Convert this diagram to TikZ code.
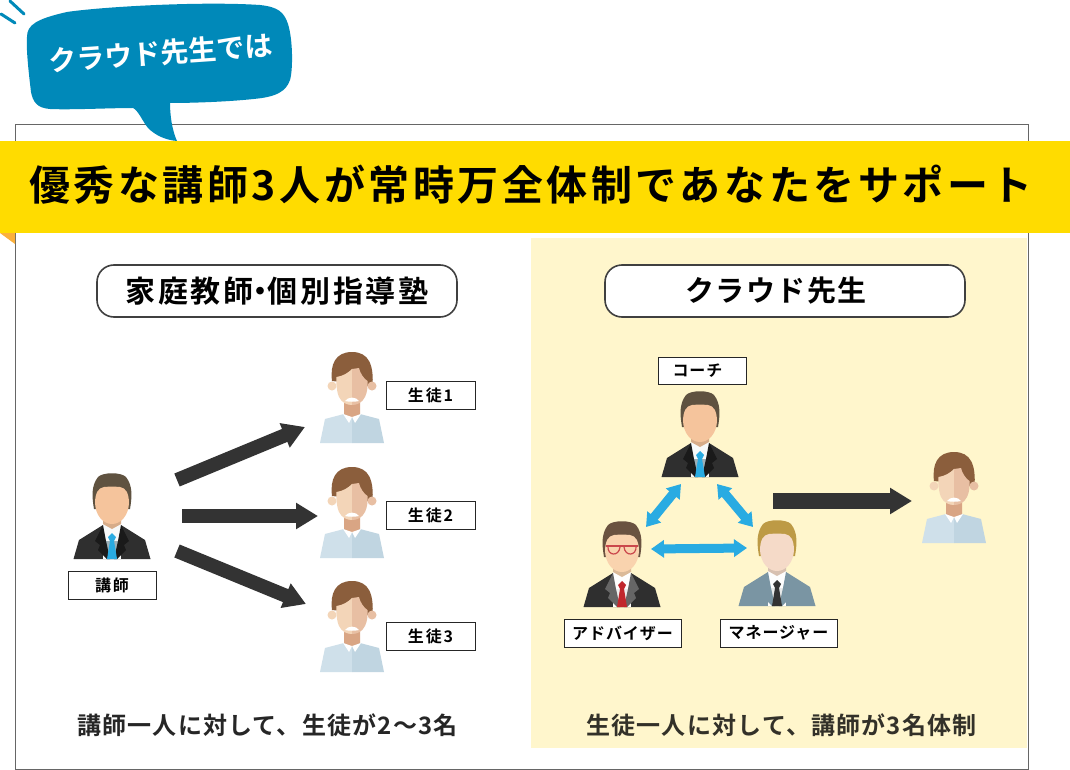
\documentclass[tikz,border=0pt]{standalone}
\usepackage{fontspec}
\usetikzlibrary{arrows.meta}
\setmainfont{Noto Sans CJK JP}[BoldFont={Noto Sans CJK JP Bold}]
\definecolor{frameC}{HTML}{666666}
\definecolor{bandC}{HTML}{FFDC00}
\definecolor{foldC}{HTML}{FBB03B}
\definecolor{panelC}{HTML}{FFF6CC}
\definecolor{bubbleC}{HTML}{0089B9}
\definecolor{arrowC}{HTML}{333333}
\definecolor{blueC}{HTML}{29ABE2}
\tikzset{
  x=1pt,y=-1pt,
  tagbox/.style={draw=black!85,line width=1pt,fill=white,inner sep=0pt,font=\fontsize{16}{16}\selectfont\bfseries\addfontfeatures{LetterSpace=6}},
  tagwide/.style={draw=black!85,line width=1pt,fill=white,inner sep=0pt,font=\fontsize{16}{16}\selectfont\bfseries\addfontfeatures{LetterSpace=12}},
  pill/.style={draw=black!75,line width=1.6pt,fill=white,rounded corners=17pt,inner sep=0pt,minimum width=360pt,minimum height=52pt},
  bigarrow/.style={draw=arrowC,line width=14pt,-{Triangle[length=22pt,width=25pt]}},
  bluearrow/.style={draw=blueC,line width=9pt,{Triangle[length=13pt,width=17pt]}-{Triangle[length=13pt,width=17pt]}},
  caption/.style={inner sep=0pt,font=\fontsize{24}{24}\selectfont\bfseries\addfontfeatures{LetterSpace=5}},
}
% #1 x, #2 y, #3 hair, #4 face, #5 jacket, #6 lapel, #7 shirt, #8 tie
\newcommand{\SuitMan}[8]{%
\begin{scope}[shift={(#1,#2)}]
  \fill[#3] (-18,-50) .. controls (-20,-62) and (-21,-73) .. (-14,-82) .. controls (-9,-87) and (9,-87) .. (14,-82) .. controls (21,-73) and (20,-62) .. (18,-50) -- cycle;
  \fill[#5] (-38.5,0) -- (-33,-19) -- (-9,-34) -- (9,-34) -- (33,-19) -- (38.5,0) -- cycle;
  \fill[white!92!#7] (-9,-35) -- (9,-35) -- (9,0) -- (-9,0) -- cycle;
  \fill[#7] (-6,-18) -- (6,-18) -- (6,0) -- (-6,0) -- cycle;
  \fill[#6] (-9,-34) -- (-17,-18) -- (-12,-14) -- (-14,-9) -- (-5,0) -- (-2,0) -- (-6,-18) -- cycle;
  \fill[#6] (9,-34) -- (17,-18) -- (12,-14) -- (14,-9) -- (5,0) -- (2,0) -- (6,-18) -- cycle;
  \fill[#8] (0,-26) -- (4,-22) -- (2,-18) -- (5,0) -- (-5,0) -- (-2,-18) -- (-4,-22) -- cycle;
  \fill[#4!88!black] (-9,-42) -- (9,-42) -- (9,-35) -- (0,-30) -- (-9,-35) -- cycle;
  \fill[#4] (-17,-57) .. controls (-16.5,-66) and (-14,-71) .. (-8,-72) .. controls (-3,-72.5) and (3,-72.5) .. (8,-72) .. controls (14,-71) and (16.5,-66) .. (17,-57) .. controls (17,-44) and (9,-35) .. (0,-35) .. controls (-9,-35) and (-17,-44) .. (-17,-57) -- cycle;
\end{scope}}
% #1 x, #2 y
\newcommand{\Student}[2]{%
\begin{scope}[shift={(#1,#2)}]
  \fill[HTML-a] (-32,0) -- (-27,-24) -- (-8,-29) -- (0,-26) -- (0,0) -- cycle;
  \fill[HTML-b] (32,0) -- (27,-24) -- (8,-29) -- (0,-26) -- (0,0) -- cycle;
  \fill[HTML-n] (-8,-42) -- (8,-42) -- (8,-29) -- (0,-25) -- (-8,-29) -- cycle;
  \fill[white] (-9,-29) -- (0,-26) -- (-3,-20) -- cycle;
  \fill[white] (9,-29) -- (0,-26) -- (3,-20) -- cycle;
  \fill[HTML-h] (-20,-62) .. controls (-22,-78) and (-17,-91) .. (0,-91) .. controls (17,-91) and (22,-78) .. (20.5,-56) -- (0,-60) -- cycle;
  \fill[HTML-f] (-20,-57) circle (4.5);
  \fill[HTML-g] (20,-57) circle (4.5);
  \fill[HTML-f] (-15.5,-66) .. controls (-9,-67) and (-4,-70) .. (0,-74) -- (0,-38) .. controls (-5,-38) and (-10,-40) .. (-13,-46) .. controls (-15,-50) and (-16,-58) .. (-15.5,-66) -- cycle;
  \fill[HTML-g] (15.5,-62) .. controls (12,-64) and (8,-70) .. (7,-75) -- (0,-74) -- (0,-38) .. controls (5,-38) and (10,-40) .. (13,-46) .. controls (15,-50) and (16,-56) .. (15.5,-62) -- cycle;
  \fill[white] (-7,-42) .. controls (-4,-46.5) and (4,-46.5) .. (7,-42) .. controls (3,-41) and (-3,-41) .. (-7,-42) -- cycle;
\end{scope}}
\definecolor{HTML-a}{HTML}{CFE0EA}
\definecolor{HTML-b}{HTML}{C0D5E1}
\definecolor{HTML-n}{HTML}{D9A584}
\definecolor{HTML-f}{HTML}{F3D5B8}
\definecolor{HTML-g}{HTML}{E8BFA3}
\definecolor{HTML-h}{HTML}{8B5E3C}
\definecolor{hairA}{HTML}{5F5240}
\definecolor{faceA}{HTML}{F5C49C}
\definecolor{jackA}{HTML}{2F2F2F}
\definecolor{lapA}{HTML}{1A1A1A}
\definecolor{shirtA}{HTML}{9DB0B8}
\definecolor{hairB}{HTML}{6A5240}
\definecolor{faceB}{HTML}{F9D3AE}
\definecolor{lapB}{HTML}{666666}
\definecolor{shirtB}{HTML}{EEEEEE}
\definecolor{tieB}{HTML}{C1272D}
\definecolor{hairC}{HTML}{BD9A45}
\definecolor{faceC}{HTML}{F5DAC8}
\definecolor{jackC}{HTML}{7A95A3}
\definecolor{shirtC}{HTML}{E8EAEA}
\definecolor{tieC}{HTML}{333333}
\begin{document}
\begin{tikzpicture}
\useasboundingbox (0,0) rectangle (1070,770);
\fill[white] (0,0) rectangle (1070,770);
% frame, panel
\draw[frameC,line width=1pt] (15,125) rectangle (1028,769);
\fill[panelC] (531,238) rectangle (1027,748);
% bubble
\draw[bubbleC,line width=3pt,line cap=round] (10,1) -- (24,14);
\draw[bubbleC,line width=3pt,line cap=round] (1,14) -- (15,23);
\fill[bubbleC] (27,37) .. controls (27,25) and (36,19) .. (67,12)
  .. controls (100,7) and (200,1) .. (260,5)
  .. controls (278,7) and (284,12) .. (288,24)
  .. controls (293,40) and (293,70) .. (290,80)
  .. controls (286,92) and (275,96) .. (262,98)
  .. controls (240,101) and (200,103) .. (170,103)
  .. controls (170,115) and (172,130) .. (177,141)
  .. controls (165,140) and (155,135) .. (148,128)
  .. controls (143,122) and (138,110) .. (133,108)
  .. controls (110,108) and (70,110) .. (50,109)
  .. controls (37,108) and (33,102) .. (31,92)
  .. controls (29,75) and (26,50) .. (27,37) -- cycle;
\node[rotate=4,text=white,inner sep=0pt,font=\fontsize{28}{28}\selectfont\bfseries] (bubbleT) at (160.5,53) {クラウド先生では};
% band
\fill[foldC] (0,233) -- (15,233) -- (15,244) -- cycle;
\fill[bandC] (0,141) rectangle (1070,233);
\node[inner sep=0pt,font=\fontsize{41}{41}\selectfont\bfseries\addfontfeatures{LetterSpace=8.6}] (title) at (531,185) {優秀な講師3人が常時万全体制であなたをサポート};
% pills
\node[pill,font=\fontsize{30}{30}\selectfont\bfseries\addfontfeatures{LetterSpace=9}] (leftP) at (277,291) {家庭教師\kern-8pt・\kern-8pt個別指導塾};
\node[pill,font=\fontsize{29}{29}\selectfont\bfseries\addfontfeatures{LetterSpace=5}] (rightP) at (785,291) {クラウド先生\kern18pt};
% figures left
\SuitMan{112}{559}{hairA}{faceA}{jackA}{lapA}{shirtA}{blueC}
\Student{352}{443}
\Student{352}{558}
\Student{352}{672}
\node[tagwide,minimum width=88pt,minimum height=28pt] (tT) at (112,585) {講師};
\node[tagwide,minimum width=89pt,minimum height=28pt] (s1) at (430.5,395) {生徒1};
\node[tagwide,minimum width=89pt,minimum height=28pt] (s2) at (430.5,515.5) {生徒2};
\node[tagwide,minimum width=89pt,minimum height=28pt] (s3) at (430.5,636.5) {生徒3};
% figures right
\SuitMan{700}{477}{hairA}{faceA}{jackA}{lapA}{shirtA}{blueC}
\SuitMan{622}{607}{hairB}{faceB}{jackA}{lapB}{shirtB}{tieB}
\SuitMan{777}{606}{hairC}{faceC}{jackC}{jackC}{shirtC}{tieC}
\draw[tieB!85,line width=1.2pt] (606,546) -- (638,546);
\draw[tieB!85,line width=1.2pt] (608,546) .. controls (607,556) and (619,557) .. (620,547) (624,547) .. controls (625,557) and (637,556) .. (636,546);
\Student{954}{543}
\node[tagbox,minimum width=88pt,minimum height=27pt] (cT) at (702,370.5) {コーチ\kern9pt};
\node[tagbox,minimum width=117pt,minimum height=28pt] (aT) at (622.5,633) {アドバイザー};
\node[tagbox,minimum width=117pt,minimum height=28pt] (mT) at (778.5,633) {マネージャー};
% connectors
\coordinate (a0) at (177,480); \coordinate (a1) at (305,427);
\coordinate (b0) at (182,516); \coordinate (b1) at (318,516);
\coordinate (c0) at (177,551); \coordinate (c1) at (306,604);
\coordinate (d0) at (773,501); \coordinate (d1) at (912,501);
\draw[bigarrow] (a0) -- (a1);
\draw[bigarrow] (b0) -- (b1);
\draw[bigarrow] (c0) -- (c1);
\draw[bigarrow,line width=16pt] (d0) -- (d1);
\coordinate (e0) at (681,484); \coordinate (e1) at (646,527);
\coordinate (f0) at (717,484); \coordinate (f1) at (753,527);
\coordinate (g0) at (651,549); \coordinate (g1) at (747,548);
\draw[bluearrow] (e0) -- (e1);
\draw[bluearrow] (f0) -- (f1);
\draw[bluearrow] (g0) -- (g1);
% captions
\node[caption,text=black!85] (capL) at (267.5,725) {講師一人に対して、生徒が2〜3名};
\node[caption,text=black!80!panelC] (capR) at (781.5,725) {生徒一人に対して、講師が3名体制};
\end{tikzpicture}
\end{document}
